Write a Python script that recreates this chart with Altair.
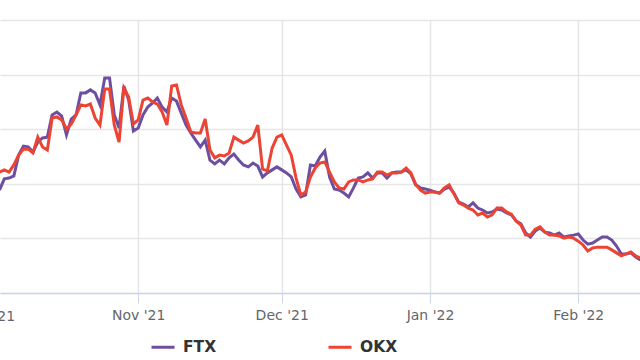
import altair as alt
import pandas as pd

start_date = "2021-10-03"
n_days = 135

ftx = [
    37.7, 41.8, 42.1, 42.9, 50.5, 53.8, 53.5, 51.6, 55.3, 56.8,
    57.1, 65.2, 66.3, 64.8, 57.9, 63.7, 65.2, 73.3, 73.3, 74.4,
    73.3, 68.9, 78.8, 78.8, 65.2, 60.4, 75.8, 70.7, 59.3, 60.4,
    65.2, 68.1, 69.6, 71.4, 68.1, 66.3, 71.4, 70.3, 65.9, 61.5,
    58.6, 56.0, 53.5, 56.0, 48.7, 47.3, 48.7, 47.3, 49.5, 50.9,
    48.7, 46.9, 46.2, 47.6, 46.5, 42.5, 44.0, 45.1, 46.2, 45.1,
    44.0, 42.5, 38.1, 35.2, 35.9, 46.9, 46.5, 49.8, 52.0, 42.5,
    38.1, 37.7, 36.6, 35.2, 38.5, 42.1, 42.5, 44.0, 42.1, 44.0,
    44.0, 42.1, 44.0, 44.3, 44.3, 45.1, 43.6, 39.6, 38.5, 38.1,
    37.7, 37.0, 36.6, 38.1, 38.8, 36.6, 33.3, 32.6, 31.5, 33.0,
    31.1, 30.4, 29.3, 29.7, 30.8, 30.4, 29.3, 28.6, 26.4, 25.3,
    22.0, 20.5, 22.7, 23.8, 22.3, 22.0, 21.2, 22.0, 20.5, 20.9,
    21.2, 21.6, 19.4, 17.9, 18.3, 19.4, 20.5, 20.5, 19.4, 17.2,
    14.3, 14.3, 14.7, 13.2, 12.1,
]

okx = [
    44.3, 45.1, 44.3, 46.9, 50.5, 52.7, 52.7, 51.3, 57.1, 53.5,
    52.4, 64.1, 64.5, 63.4, 60.1, 61.9, 65.2, 68.9, 68.5, 69.2,
    64.1, 61.5, 74.7, 74.7, 61.5, 55.3, 75.1, 71.8, 61.9, 63.4,
    70.7, 71.4, 70.0, 69.2, 66.3, 61.5, 75.8, 76.2, 68.9, 64.1,
    59.0, 58.6, 58.6, 63.7, 52.4, 49.5, 50.5, 50.2, 51.3, 57.1,
    56.0, 54.9, 55.7, 57.1, 61.5, 45.4, 44.7, 53.1, 57.1, 57.9,
    54.2, 50.5, 42.1, 35.9, 37.0, 42.5, 45.8, 47.6, 48.0, 44.3,
    40.7, 38.5, 38.1, 40.7, 41.4, 41.4, 40.7, 41.4, 41.8, 44.3,
    44.3, 43.2, 44.0, 44.0, 44.3, 45.8, 44.0, 39.9, 37.7, 36.6,
    37.0, 37.0, 36.6, 38.5, 39.6, 36.3, 33.0, 32.2, 31.1, 30.4,
    28.6, 29.3, 27.8, 28.6, 31.1, 31.1, 29.7, 28.9, 26.4, 24.9,
    21.2, 21.2, 23.4, 24.2, 22.3, 21.2, 21.2, 20.9, 20.1, 20.5,
    20.1, 19.0, 17.6, 15.4, 16.5, 16.8, 16.8, 16.8, 15.8, 14.7,
    13.6, 14.3, 15.0, 13.6, 12.8,
]

series_names = ["FTX", "OKX"]
series_colors = ["#6c4fa0", "#ec4434"]

# month starts used as x-axis tick labels
month_starts = ["2021-10-01", "2021-11-01", "2021-12-01", "2022-01-01", "2022-02-01"]

dates = pd.date_range(start_date, periods=n_days, freq="D").strftime("%Y-%m-%dT%H:%M:%S")

rows = []
for name, vals in zip(series_names, [ftx, okx]):
    for d, v in zip(dates, vals):
        rows.append({"date": d, "value": v, "exchange": name})
df = pd.DataFrame(rows)


def to_dt(s):
    y, m, d = (int(p) for p in s.split("-"))
    return alt.DateTime(year=y, month=m, date=d)


month_ticks = [to_dt(s) for s in month_starts]

x_scale = alt.Scale(
    domain=[
        alt.DateTime(year=2021, month=10, date=3, hours=2, minutes=30),
        alt.DateTime(year=2022, month=2, date=13, hours=21, minutes=40),
    ],
    nice=False,
)

LABEL_FONT = "DejaVu Sans"
LABEL_SIZE = 14
LABEL_COLOR = "#666666"

lines = (
    alt.Chart(df)
    .mark_line(strokeWidth=3, clip=True)
    .encode(
        x=alt.X(
            "date:T",
            title=None,
            scale=x_scale,
            axis=alt.Axis(
                values=month_ticks,
                format="%b '%y",
                grid=True,
                gridColor="#e6e6e6",
                gridWidth=1.5,
                domainColor="#ccd6eb",
                domainWidth=1.5,
                tickColor="#ccd6eb",
                tickSize=10,
                tickWidth=1,
                labelColor=LABEL_COLOR,
                labelFont=LABEL_FONT,
                labelFontSize=LABEL_SIZE,
                labelPadding=5,
                labelFlush=False,
                labelOverlap=False,
            ),
        ),
        y=alt.Y(
            "value:Q",
            title=None,
            scale=alt.Scale(domain=[0, 100], nice=False),
            axis=alt.Axis(
                values=[0, 20, 40, 60, 80, 100],
                labels=False,
                ticks=False,
                domain=False,
                grid=True,
                gridColor="#e6e6e6",
                gridWidth=1.5,
            ),
        ),
        color=alt.Color(
            "exchange:N",
            scale=alt.Scale(domain=series_names, range=series_colors),
            legend=alt.Legend(
                title=None,
                orient="none",
                direction="horizontal",
                legendX=150,
                legendY=314,
                symbolType="stroke",
                symbolSize=529,
                symbolStrokeWidth=3,
                labelFont=LABEL_FONT,
                labelFontSize=15.5,
                labelFontWeight="bold",
                labelColor="#333333",
                labelOffset=7,
                columnPadding=105,
                padding=0,
            ),
        ),
    )
)

# the first month label sits left of the visible plot edge (partly cut off)
cut_label = (
    alt.Chart(pd.DataFrame({"date": month_starts[:1]}))
    .mark_text(
        font=LABEL_FONT,
        fontSize=LABEL_SIZE,
        color=LABEL_COLOR,
        baseline="top",
        align="center",
        dy=17,
    )
    .encode(
        x=alt.X("date:T", scale=x_scale),
        y=alt.value(273),
        text=alt.Text("date:T", format="%b '%y"),
    )
)

chart = (
    alt.layer(lines, cut_label)
    .properties(
        width=640,
        height=273,
        autosize=alt.AutoSizeParams(type="none"),
        padding={"left": 0, "top": 20, "right": 0, "bottom": 67},
        background="white",
    )
    .configure_view(stroke=None)
)

chart.save("out.html", embed_options={"renderer": "svg", "actions": False})
